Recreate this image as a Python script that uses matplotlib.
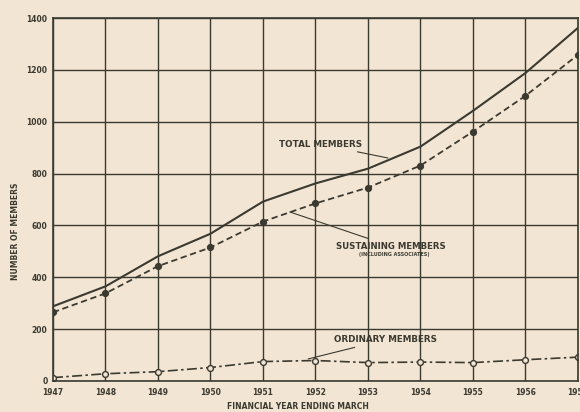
import matplotlib
matplotlib.use("Agg")
import matplotlib.pyplot as plt

years = [1947, 1948, 1949, 1950, 1951, 1952, 1953, 1954, 1955, 1956, 1957]
total_members = [288, 365, 481, 568, 692, 762, 819, 904, 1042, 1188, 1362]
sustaining_members = [265, 338, 443, 515, 615, 685, 746, 831, 962, 1100, 1258]
ordinary_members = [13, 28, 36, 52, 75, 79, 71, 73, 71, 82, 92]
y_ticks = [0, 200, 400, 600, 800, 1000, 1200, 1400]

bg = '#f3e5d3'
ink = '#3b3a30'

plt.rcParams['font.family'] = ['DejaVu Sans']
fig = plt.figure(figsize=(5.8, 4.12), dpi=100, facecolor=bg)
ax = fig.add_axes([53/580, 1 - 381/412, 525/580, 363/412])
ax.set_facecolor(bg)

ax.plot(years, total_members, color=ink, lw=1.5, solid_capstyle='round')
ax.plot(years, sustaining_members, color=ink, lw=1.3, ls=(0, (3.5, 2)),
        marker='o', ms=4.2, mfc=ink, mec=ink)
ax.plot(years, ordinary_members, color=ink, lw=1.2, ls=(0, (6, 2, 1.5, 2)),
        marker='o', ms=4.2, mfc=bg, mec=ink, mew=1.0)

ax.set_xlim(1947, 1957)
ax.set_ylim(0, 1400)
ax.set_xticks(years)
ax.set_yticks(y_ticks)
ax.set_xticklabels([str(y) for y in years], fontsize=5.5, fontweight='bold', color=ink)
ax.set_yticklabels([str(v) for v in y_ticks], fontsize=5.5, fontweight='bold', color=ink)
ax.tick_params(axis='x', length=0, pad=5)
ax.tick_params(axis='y', length=0, pad=4)
ax.grid(True, color=ink, lw=1.0)
ax.set_axisbelow(True)
for s in ax.spines.values():
    s.set_color(ink)
    s.set_linewidth(1.2)

ax.set_ylabel('NUMBER OF MEMBERS', fontsize=5.5, fontweight='bold', color=ink)
ax.yaxis.set_label_coords(-33/525, (381 - 231) / 363)
ax.set_xlabel('FINANCIAL YEAR ENDING MARCH', fontsize=5.5, fontweight='bold', color=ink)
ax.xaxis.set_label_coords((298 - 53) / 525, -(402 - 381) / 363)

lp = dict(arrowstyle='-', color=ink, lw=0.8, shrinkA=1, shrinkB=0)
ax.annotate('TOTAL MEMBERS', xy=(1953.38, 860), xytext=(1952.88, 913),
            ha='right', va='center', fontsize=6.3, fontweight='bold', color=ink,
            arrowprops=lp)
ax.annotate('SUSTAINING MEMBERS', xy=(1951.51, 652), xytext=(1952.39, 520),
            ha='left', va='center', fontsize=6.2, fontweight='bold', color=ink,
            arrowprops=lp)
ax.text(1953.5, 486, '(INCLUDING ASSOCIATES)', ha='center', va='center',
        fontsize=3.5, fontweight='bold', color=ink)
ax.annotate('ORDINARY MEMBERS', xy=(1951.86, 85), xytext=(1952.35, 159),
            ha='left', va='center', fontsize=6.3, fontweight='bold', color=ink,
            arrowprops=lp)

fig.savefig('out.png', dpi=100, facecolor=bg)
